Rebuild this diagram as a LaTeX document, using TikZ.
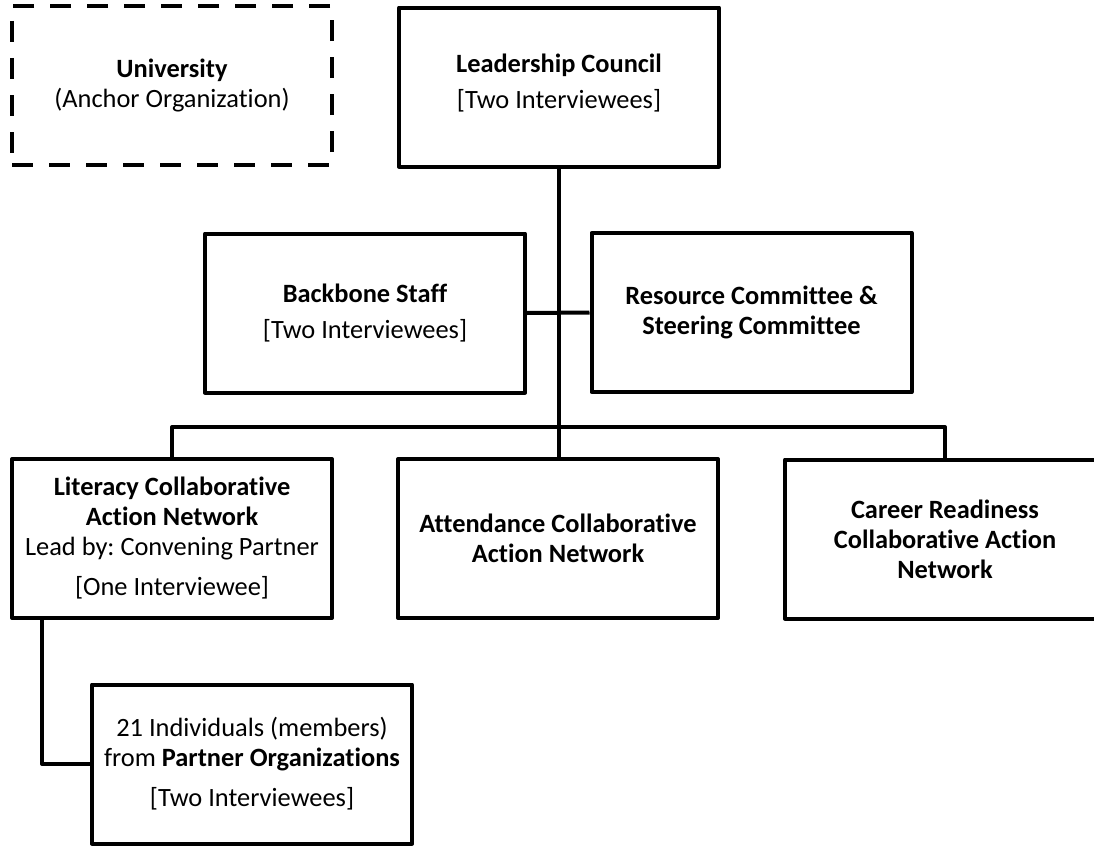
\documentclass[tikz,border=0pt]{standalone}
\usepackage{fontspec}
\setmainfont{Carlito}[Ligatures={NoCommon,NoRequired,NoContextual}]
\usepackage{tikz}
\frenchspacing

\tikzset{
  box/.style={rectangle, draw, line width=2pt, line join=round, fill=white,
    inner sep=2pt, minimum width=160pt, minimum height=79.5pt, align=center,
    font=\fontsize{13.2}{15}\selectfont},
  dashbox/.style={box, dash pattern=on 10.5pt off 8pt},
  link/.style={line width=2pt, line join=round}
}

\begin{document}
\begin{tikzpicture}[x=0.5pt, y=-0.5pt]

 \useasboundingbox (0,0) rectangle (1094,846);

 % top row
 \node[dashbox] (univ) at (172,85.5) {\textbf{University}\\(Anchor Organization)};
 \node[box] (lead) at (559,87) {\textbf{Leadership Council}\\[3pt][Two Interviewees]\\[-9pt]\mbox{}};

 % middle row
 \node[box] (back) at (365,313) {\textbf{Backbone Staff}\\[3pt][Two Interviewees]};
 \node[box] (res) at (751.5,312.5) {\textbf{Resource Committee \&}\\\textbf{Steering Committee}};

 % networks
 \node[box] (lit) at (172,538.5) {\textbf{Literacy Collaborative}\\\textbf{Action Network}\\Lead by: Convening Partner\\[5pt][One Interviewee]};
 \node[box] (att) at (558,538.5) {\textbf{Attendance Collaborative}\\\textbf{Action Network}};
 \node[box] (car) at (945,539) {\textbf{Career Readiness}\\\textbf{Collaborative Action}\\\textbf{Network}};

 % members
 \node[box] (ind) at (252,764) {21 Individuals (members)\\from \textbf{Partner Organizations}\\[5pt][Two Interviewees]};

 % connectors
 \coordinate (bar) at (558,427);
 \draw[link] (lead.south) -- (lead.south |- att.north);
 \draw[link] (back.east) -- (res.west);
 \draw[link] (lit.north) |- (bar) -| (car.north);
 \draw[link] ([xshift=16pt]lit.south west) |- (ind.west);

\end{tikzpicture}
\end{document}
